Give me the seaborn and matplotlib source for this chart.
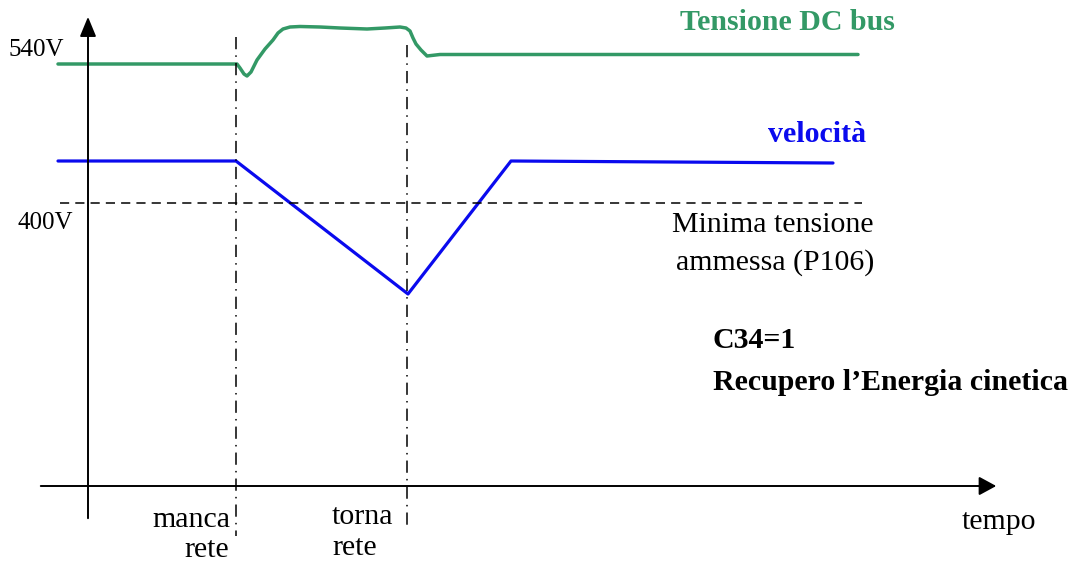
import pandas as pd
import matplotlib.pyplot as plt
import seaborn as sns

# DC bus voltage curve (time, level), in drawing units
bus_t = [58, 237, 240, 244, 247, 251, 257, 265, 273, 278, 283, 290, 300, 320, 340, 367, 385, 400, 406, 410, 413, 416, 421, 427, 440, 600, 858]
bus_v = [64, 64, 68, 74, 76, 72, 60, 49, 40, 33, 29, 27, 26.5, 27, 28, 29, 28, 27, 28, 31, 38, 44, 50, 56, 54.5, 54.5, 54.5]

# speed curve
vel_t = [58, 236, 408, 511, 833]
vel_v = [161, 161, 294, 161, 163]

# events on the time axis
event_t = [236, 407]
event_top = [37, 45]
event_bottom = [536, 530]

min_level = 203

sns.set_style("white")
plt.rcParams['font.family'] = ['Liberation Serif', 'DejaVu Serif']
plt.rcParams['text.color'] = 'black'

fig = plt.figure(figsize=(10.75, 5.62), dpi=100)
ax = fig.add_axes([0, 0, 1, 1])
ax.set_xlim(0, 1075)
ax.set_ylim(562, 0)
ax.axis('off')

green = '#339966'
blue = '#0a0aee'

sns.lineplot(x=bus_t, y=bus_v, ax=ax, color=green, linewidth=2.5, sort=False, estimator=None)
sns.lineplot(x=vel_t, y=vel_v, ax=ax, color=blue, linewidth=2.3, sort=False, estimator=None)

# minimum voltage line
ax.plot([60, 862], [min_level, min_level], color='black', linewidth=1.1, linestyle=(0, (6, 4)))

# event markers
for t, top, bot in zip(event_t, event_top, event_bottom):
    ax.plot([t, t], [top, bot], color='black', linewidth=1.1, linestyle=(0, (8, 4, 1, 4)))

# axes arrows
ax.annotate('', xy=(88, 14), xytext=(88, 521),
            arrowprops=dict(arrowstyle='-|>,head_length=0.8,head_width=0.33',
                            mutation_scale=15, lw=1.4, color='black'))
ax.annotate('', xy=(999, 486), xytext=(38, 486),
            arrowprops=dict(arrowstyle='-|>,head_length=0.7,head_width=0.38',
                            mutation_scale=15, lw=1.4, color='black'))

fs = 21.5
ax.text(787, 22, 'Tensione DC bus', color=green, fontsize=fs, fontweight='bold', ha='center', va='center')
ax.text(817, 134, 'velocità', color=blue, fontsize=fs, fontweight='bold', ha='center', va='center')
ax.text(8, 50, '540V', fontsize=18, ha='left', va='center')
ax.text(18, 223, '400V', fontsize=18, ha='left', va='center')
ax.text(773, 225, 'Minima tensione', fontsize=fs, ha='center', va='center')
ax.text(775, 263, 'ammessa (P106)', fontsize=fs, ha='center', va='center')
ax.text(713, 341, 'C34=1', fontsize=fs, fontweight='bold', ha='left', va='center')
ax.text(713, 383, 'Recupero l\u2019Energia cinetica', fontsize=fs, fontweight='bold', ha='left', va='center')
ax.text(230, 520, 'manca', fontsize=fs, ha='right', va='center')
ax.text(229, 550, 'rete', fontsize=fs, ha='right', va='center')
ax.text(332, 517, 'torna', fontsize=fs, ha='left', va='center')
ax.text(332, 548, 'rete', fontsize=fs, ha='left', va='center')
ax.text(962, 522, 'tempo', fontsize=fs, ha='left', va='center')

fig.savefig('out.png', dpi=100)
